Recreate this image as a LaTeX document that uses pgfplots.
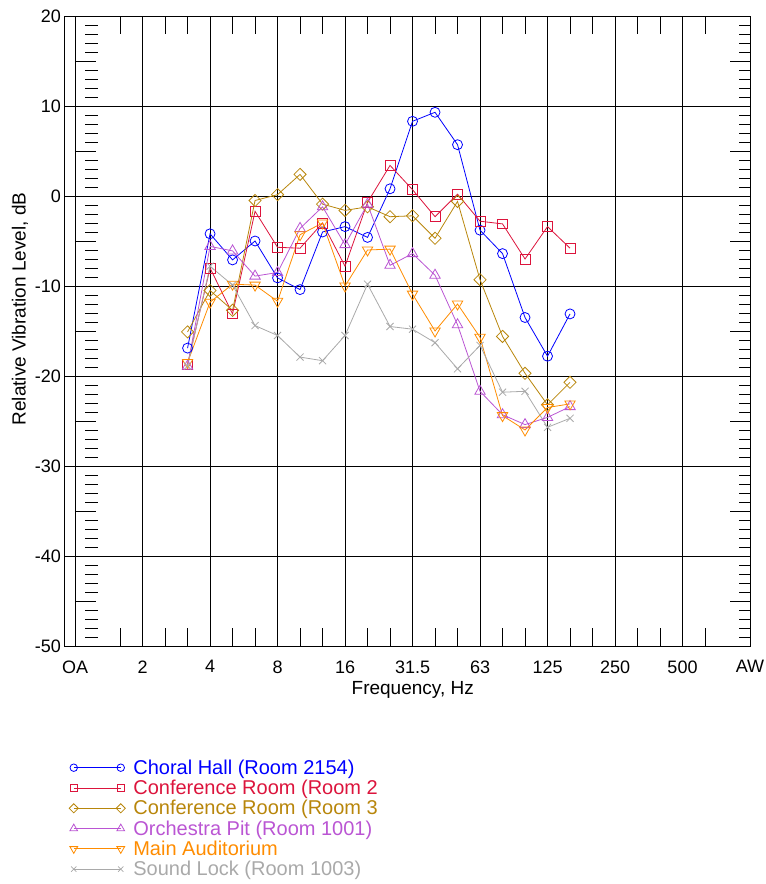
\documentclass[border=0pt]{standalone}
\usepackage{fontspec}
\setmainfont{Liberation Sans}
\usepackage{pgfplots}
\usepackage{pgfplotstable}
\pgfplotsset{compat=1.18}
\definecolor{cblue}{RGB}{0,0,255}
\definecolor{cred}{RGB}{220,20,60}
\definecolor{cgold}{RGB}{184,134,11}
\definecolor{cpurp}{RGB}{186,85,211}
\definecolor{corange}{RGB}{255,140,0}
\definecolor{cgray}{RGB}{169,169,169}

\pgfplotstableread{
i  ch    crb   crc   op    ma    sl
5  -16.9 -18.7 -15.1 -18.9 -18.5 -18.9
6  -4.2  -8.0  -10.5 -5.6  -11.8 -7.8
7  -7.1  -13.1 -12.7 -6.1  -9.8  -9.9
8  -5.0  -1.7  -0.5  -8.9  -9.9  -14.4
9  -9.1  -5.7  0.15  -8.5  -11.7 -15.5
10 -10.4 -5.8  2.4   -3.6  -4.3  -17.9
11 -4.0  -3.0  -0.9  -1.2  -3.0  -18.3
12 -3.4  -7.8  -1.6  -5.4  -10.0 -15.5
13 -4.6  -0.7  -1.2  -0.9  -6.0  -9.8
14 0.8   3.4   -2.3  -7.7  -5.9  -14.5
15 8.3   0.7   -2.2  -6.4  -10.9 -14.8
16 9.3   -2.3  -4.7  -8.8  -15.0 -16.3
17 5.7   0.2   -0.6  -14.3 -12.0 -19.2
18 -3.8  -2.8  -9.3  -21.7 -15.7 -16.6
19 -6.4  -3.1  -15.6 -24.3 -24.4 -21.8
20 -13.5 -7.0  -19.7 -25.4 -26.0 -21.7
21 -17.8 -3.4  -23.2 -24.6 -23.5 -25.7
22 -13.1 -5.8  -20.7 -23.4 -23.1 -24.7
}\data

\pgfplotsset{
  base/.style={at={(0pt,0pt)}, anchor=south west, scale only axis,
    width=685.5pt, height=630pt, xmin=-0.47, xmax=30, ymin=-50, ymax=20,
    tick align=inside},
}

\begin{document}
\begin{tikzpicture}
\useasboundingbox (-64.5pt,-238pt) rectangle (701.5pt,646pt);
% left y ticks (start at the OA grid line)
\begin{axis}[base, axis line style={draw=none}, xtick=\empty,
  ytick={-50,-45,...,20}, minor y tick num=4, yticklabels={}, ytick pos=left,
  major tick length=21pt, minor tick length=12pt,
  y tick style={xshift=10.5pt, black, line width=0.8pt},
  minor y tick style={xshift=10.5pt, black, line width=0.8pt}]
\end{axis}
% right y ticks
\begin{axis}[base, axis line style={draw=none}, xtick=\empty,
  ytick={-50,-45,...,20}, minor y tick num=4, yticklabels={}, ytick pos=right,
  major tick length=20pt, minor tick length=11pt,
  y tick style={black, line width=0.8pt},
  minor y tick style={black, line width=0.8pt}]
\end{axis}
% main axis
\begin{axis}[base,
  axis line style={black, line width=0.9pt},
  xtick={0,3,...,30},
  xticklabels={OA,2,4,8,16,31.5,63,125,250,500,AW},
  minor xtick={2,4,5,7,8,10,11,13,14,16,17,19,20,22,23,25,26,28},
  ytick={-50,-40,...,20},
  xmajorgrids, ymajorgrids,
  major grid style={black, line width=0.8pt},
  major tick length=0pt, minor tick length=18pt,
  minor x tick style={black, line width=0.8pt},
  tick label style={font=\fontsize{18}{21}\selectfont},
  /pgf/number format/assume math mode=true,
  xticklabel style={yshift=-11pt},
  xlabel={Frequency, Hz}, ylabel={Relative Vibration Level, dB},
  label style={font=\fontsize{19}{22}\selectfont},
  xlabel style={at={(axis description cs:0.508,-0.07)}, anchor=center},
  ylabel style={at={(axis description cs:-0.065,0.535)}, anchor=center},
  legend style={draw=none, fill=none, at={(0,0)}, anchor=north west,
    xshift=4.5pt, yshift=-113.5pt, font=\fontsize{20}{23}\selectfont,
    inner sep=0pt, row sep=4.3pt, column sep=8pt, nodes={inner sep=0pt}},
  legend cell align=left,
  legend image code/.code={\draw[#1, every mark/.append style={scale=0.75}] plot coordinates {(0pt,0pt) (47pt,0pt)};},
]
\addplot[cblue, line width=0.8pt, mark=o, mark size=5pt, mark options={fill=white, solid}] table[x=i,y=ch]{\data};
\addlegendentry{\textcolor{cblue}{Choral Hall (Room 2154)}}
\addplot[cred, line width=0.8pt, mark=square, mark size=4.9pt, mark options={fill=white, solid}] table[x=i,y=crb]{\data};
\addlegendentry{\textcolor{cred}{Conference Room (Room 2}}
\addplot[cgold, line width=0.8pt, mark=square, mark size=4.3pt, mark options={rotate=45, fill=white, solid}] table[x=i,y=crc]{\data};
\addlegendentry{\textcolor{cgold}{Conference Room (Room 3}}
\addplot[cpurp, line width=0.8pt, mark=triangle, mark size=6pt, mark options={fill=white, solid}] table[x=i,y=op]{\data};
\addlegendentry{\textcolor{cpurp}{Orchestra Pit (Room 1001)}}
\addplot[corange, line width=0.8pt, mark=triangle, mark size=6pt, mark options={rotate=180, fill=white, solid}] table[x=i,y=ma]{\data};
\addlegendentry{\textcolor{corange}{Main Auditorium}}
\addplot[cgray, line width=0.8pt, mark=x, mark size=5pt, mark options={solid}] table[x=i,y=sl]{\data};
\addlegendentry{\textcolor{cgray}{Sound Lock (Room 1003)}}
\end{axis}
\end{tikzpicture}
\end{document}
